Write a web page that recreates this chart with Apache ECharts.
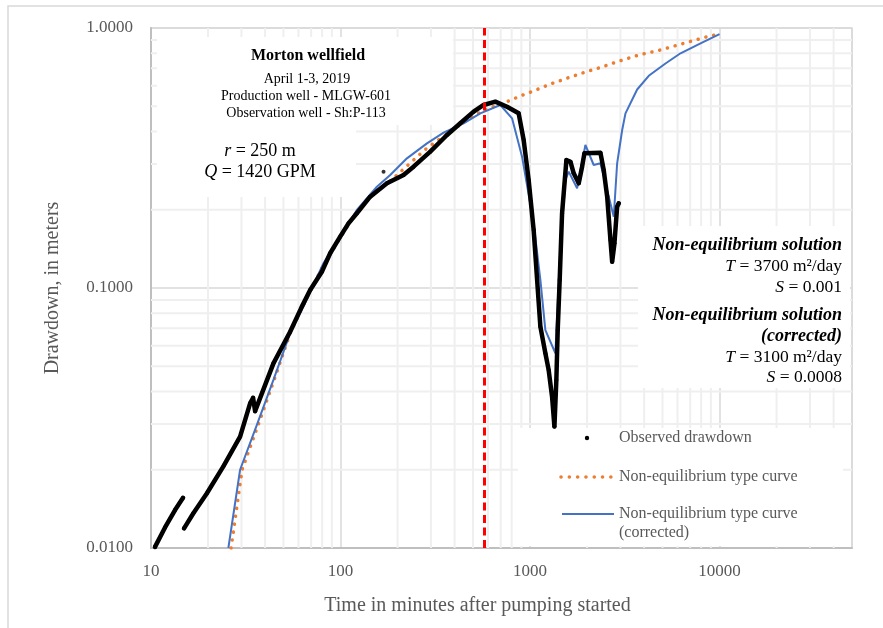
<!DOCTYPE html>
<html>
<head>
<meta charset="utf-8">
<title>Morton wellfield drawdown</title>
<script src="https://cdn.jsdelivr.net/npm/echarts@6/dist/echarts.min.js"></script>
<style>
  html, body { margin: 0; padding: 0; background: #fff; }
  #chart { width: 883px; height: 628px; }
</style>
</head>
<body>
<div id="chart"></div>
<script>
// [time in minutes, drawdown in m]
var observed = [
  [10.5, 0.0101], [11.86, 0.0120], [13.39, 0.0140], [14.76, 0.0156],
  [14.85, '-'],
  [14.94, 0.0119], [16.73, 0.0136], [19.69, 0.0162], [24.09, 0.0206], [29.52, 0.0268],
  [33.34, 0.0360], [34.57, 0.0378], [35.42, 0.0336], [44.26, 0.0513], [54.23, 0.0679],
  [62.52, 0.0848], [69.17, 0.0982], [79.72, 0.1155], [88.19, 0.1360], [99.6, 0.1575],
  [110.2, 0.1773], [122.0, 0.1938], [143.4, 0.2245], [175.8, 0.2527], [215.1, 0.2720],
  [242.9, 0.2928], [297.6, 0.3344], [364.6, 0.3877], [428.7, 0.4300], [503.9, 0.4766],
  [569.1, 0.5057], [656.0, 0.5207], [756.2, 0.4981], [871.0, 0.4697], [925.6, 0.3709],
  [983.5, 0.2603], [1045, 0.1672], [1090, 0.1074], [1134, 0.0710], [1205, 0.0561],
  [1254, 0.0484], [1307, 0.0382], [1345, 0.0293], [1377, 0.0443], [1400, 0.0689],
  [1434, 0.1074], [1476, 0.1938], [1556, 0.3107], [1634, 0.3060], [1700, 0.2762],
  [1807, 0.2527], [1883, 0.2928], [1936, 0.3297], [2352, 0.3315], [2448, 0.2843],
  [2553, 0.2245], [2657, 0.1530], [2713, 0.1262], [2789, 0.1485], [2882, 0.2055],
  [2939, 0.2118]
];
var observedStray = [[168.7, 0.2802]];

// Theis curve, T = 3700 m2/day, S = 0.001
var typeCurve = [
  [26.45, 0.0100], [30.24, 0.0200], [36.74, 0.0297], [44.63, 0.0443], [54.23, 0.0669],
  [63.73, 0.0860], [81.28, 0.1226], [99.6, 0.1557], [122.0, 0.1969], [155.6, 0.2381],
  [182.9, 0.2579], [224.1, 0.2946], [285.9, 0.3455], [364.6, 0.3912], [465.1, 0.4428],
  [569.1, 0.4838], [756.2, 0.5207], [889.2, 0.5477], [1045, 0.5725], [1281, 0.6088],
  [1634, 0.6478], [1960, 0.6772], [2352, 0.7049], [2882, 0.7417], [3748, 0.7873],
  [4880, 0.8231], [6479, 0.8732], [8612, 0.9260], [10000, 0.948]
];

// corrected curve, T = 3100 m2/day, S = 0.0008
var typeCurveCorrected = [
  [25.6, 0.0100], [29.52, 0.0200], [36.16, 0.0297], [44.26, 0.0443], [54.23, 0.0670],
  [63.73, 0.0848], [81.28, 0.1245], [99.6, 0.1575], [122.0, 0.1995], [155.6, 0.2452],
  [182.9, 0.2720], [224.1, 0.3153], [285.9, 0.3601], [349.9, 0.3957], [446.1, 0.4300],
  [546.7, 0.4697], [697.1, 0.5057], [803.9, 0.4495], [907.8, 0.3199], [1045, 0.1773],
  [1134, 0.1074], [1205, 0.0689], [1361, 0.0561], [1446, 0.1441], [1537, 0.2603],
  [1600, 0.2802], [1772, 0.2418], [1960, 0.3548], [2168, 0.2972], [2352, 0.3017],
  [2766, 0.1880], [2882, 0.3017], [3064, 0.4052], [3189, 0.4697], [3675, 0.5801],
  [4232, 0.6549], [5185, 0.7303], [6226, 0.7993], [7938, 0.8732], [10000, 0.948]
];

var pumpStop = 570;          // red dashed line, minutes
var xMin = 10, xMax = 50000;
var yMin = 0.01, yMax = 1;
var minorSteps = [2, 3, 4, 5, 6, 7, 8, 9];
var xDecades = [10, 100, 1000, 10000];
var yDecades = [0.01, 0.1];

var FONT = "'Times New Roman', 'Liberation Serif', serif";
var GREY = '#595959';

// minor grid lines at 2..9 of every decade: [x, y, direction]
var minorGrid = [];
xDecades.forEach(function (d) {
  minorSteps.forEach(function (m) {
    if (d * m < xMax) minorGrid.push([d * m, 0.1, 0]);
  });
});
yDecades.forEach(function (d) {
  minorSteps.forEach(function (m) {
    minorGrid.push([100, +(d * m).toFixed(3), 1]);
  });
});

function isDecade (v) {
  var lg = Math.log10(v);
  return Math.abs(lg - Math.round(lg)) < 1e-6;
}

function rs (size, style, weight) {
  return { fontFamily: FONT, fontSize: size, fontStyle: style || 'normal', fontWeight: weight || 'normal', fill: '#000' };
}

function txt (text, x, y, size, align, rich, color) {
  return {
    type: 'text', x: x, y: y, z: 3,
    style: {
      text: text, fill: color || '#000', fontFamily: FONT, fontSize: size,
      align: align, textAlign: align, verticalAlign: 'middle', textVerticalAlign: 'middle',
      rich: rich
    }
  };
}

function whiteBox (x, y, w, h) {
  return { type: 'rect', z: 2, silent: true, shape: { x: x, y: y, width: w, height: h }, style: { fill: '#fff' } };
}

var richLeft = { i: rs(18, 'italic'), n: rs(18), t: rs(16, 'normal', 'bold') };
var richRight = { i: rs(17.5, 'italic'), n: rs(17.5), b: rs(18, 'italic', 'bold') };

var chart = echarts.init(document.getElementById('chart'));

chart.setOption({
  animation: false,
  backgroundColor: '#fff',
  grid: {
    left: 151, right: 31, top: 28, bottom: 80,
    containLabel: false, outerBoundsMode: 'none',
    show: true, borderColor: '#dcdcdc', borderWidth: 1.5
  },
  xAxis: {
    type: 'log', logBase: 10, min: xMin, max: xMax,
    name: 'Time in minutes after pumping started',
    nameLocation: 'middle', nameGap: 48,
    nameTextStyle: { fontFamily: FONT, fontSize: 20, color: GREY, padding: [0, 48, 0, 0] },
    axisLine: { show: true, lineStyle: { color: '#bfbfbf', width: 2 } },
    axisTick: { show: false },
    axisLabel: {
      margin: 15, fontFamily: FONT, fontSize: 17, color: GREY,
      formatter: function (v) { return isDecade(v) ? String(Math.round(v)) : ''; }
    },
    splitLine: { show: true, lineStyle: { color: '#d9d9d9', width: 1.5 } }
  },
  yAxis: {
    type: 'log', logBase: 10, min: yMin, max: yMax,
    name: 'Drawdown, in meters',
    nameLocation: 'middle', nameGap: 88,
    nameTextStyle: { fontFamily: FONT, fontSize: 20, color: GREY },
    axisLine: { show: true, lineStyle: { color: '#bfbfbf', width: 2 } },
    axisTick: { show: false },
    axisLabel: {
      margin: 18, fontFamily: FONT, fontSize: 17, color: GREY,
      formatter: function (v) { return isDecade(v) ? v.toFixed(4) : ''; }
    },
    splitLine: { show: true, lineStyle: { color: '#d9d9d9', width: 1.5 } }
  },
  series: [
    {
      type: 'custom',
      name: 'minor grid',
      silent: true, clip: false, z: 1,
      dimensions: ['x', 'y', 'dir'],
      encode: { x: 0, y: 1 },
      data: minorGrid,
      renderItem: function (params, api) {
        var a, b;
        if (api.value(2) === 0) {
          a = api.coord([api.value(0), yMin]);
          b = api.coord([api.value(0), yMax]);
        } else {
          a = api.coord([xMin, api.value(1)]);
          b = api.coord([xMax, api.value(1)]);
        }
        return {
          type: 'line',
          shape: { x1: a[0], y1: a[1], x2: b[0], y2: b[1] },
          style: { stroke: '#efefef', lineWidth: 2 }
        };
      }
    },
    {
      type: 'line',
      name: 'Non-equilibrium type curve',
      data: typeCurve,
      z: 3,
      showSymbol: false,
      lineStyle: { color: '#ed7d31', width: 3.5, type: [0.1, 7.9], cap: 'round' }
    },
    {
      type: 'line',
      name: 'Non-equilibrium type curve (corrected)',
      data: typeCurveCorrected,
      z: 3,
      showSymbol: false,
      lineStyle: { color: '#4472c4', width: 2 }
    },
    {
      type: 'line',
      name: 'Observed drawdown',
      data: observed,
      z: 4,
      connectNulls: false,
      symbol: 'circle', symbolSize: 4, showSymbol: true,
      itemStyle: { color: '#000' },
      lineStyle: { color: '#000', width: 4.5, join: 'round', cap: 'round' },
      markLine: {
        silent: true,
        symbol: ['none', 'none'],
        label: { show: false },
        lineStyle: { color: '#ff0000', width: 3, type: [8, 4.5] },
        data: [{ xAxis: pumpStop }]
      }
    },
    {
      type: 'scatter',
      name: 'Observed drawdown',
      data: observedStray,
      z: 4,
      symbolSize: 4,
      itemStyle: { color: '#000' }
    }
  ],
  graphic: [
    { type: 'rect', z: 0, silent: true, shape: { x: 8, y: 6, width: 900, height: 700 },
      style: { fill: 'none', stroke: '#d9d9d9', lineWidth: 1.5 } },

    whiteBox(157, 37, 296, 88),
    whiteBox(157, 125, 199, 72),
    whiteBox(638, 226, 212, 162),
    whiteBox(518, 428, 325, 118),

    txt('{t|Morton wellfield}', 308, 56, 16, 'center', richLeft),
    txt('April 1-3, 2019', 307, 79, 14, 'center'),
    txt('Production well - MLGW-601', 306, 96, 14, 'center'),
    txt('Observation well - Sh:P-113', 306, 113, 14, 'center'),
    txt('{i|r}{n| = 250 m}', 260, 151, 18, 'center', richLeft),
    txt('{i|Q}{n| = 1420 GPM}', 260, 172, 18, 'center', richLeft),

    txt('{b|Non-equilibrium solution}', 842, 245, 18, 'right', richRight),
    txt('{i|T}{n| = 3700 m\u00b2/day}', 842, 266, 17.5, 'right', richRight),
    txt('{i|S}{n| = 0.001}', 842, 287, 17.5, 'right', richRight),
    txt('{b|Non-equilibrium solution}', 842, 315, 18, 'right', richRight),
    txt('{b|(corrected)}', 842, 336, 18, 'right', richRight),
    txt('{i|T}{n| = 3100 m\u00b2/day}', 842, 357, 17.5, 'right', richRight),
    txt('{i|S}{n| = 0.0008}', 842, 377, 17.5, 'right', richRight),

    // legend
    { type: 'circle', z: 3, shape: { cx: 587, cy: 438, r: 2.2 }, style: { fill: '#000' } },
    txt('Observed drawdown', 619, 438, 16, 'left', null, GREY),
    { type: 'line', z: 3, shape: { x1: 561, y1: 477, x2: 611, y2: 477 },
      style: { stroke: '#ed7d31', lineWidth: 3.5, lineDash: [0.1, 8.2], lineCap: 'round' } },
    txt('Non-equilibrium type curve', 619, 477, 16, 'left', null, GREY),
    { type: 'line', z: 3, shape: { x1: 562, y1: 514, x2: 614, y2: 514 },
      style: { stroke: '#4472c4', lineWidth: 2 } },
    txt('Non-equilibrium type curve', 619, 514, 16, 'left', null, GREY),
    txt('(corrected)', 619, 533, 16, 'left', null, GREY)
  ]
});

window.addEventListener('resize', function () { chart.resize(); });
</script>
</body>
</html>
